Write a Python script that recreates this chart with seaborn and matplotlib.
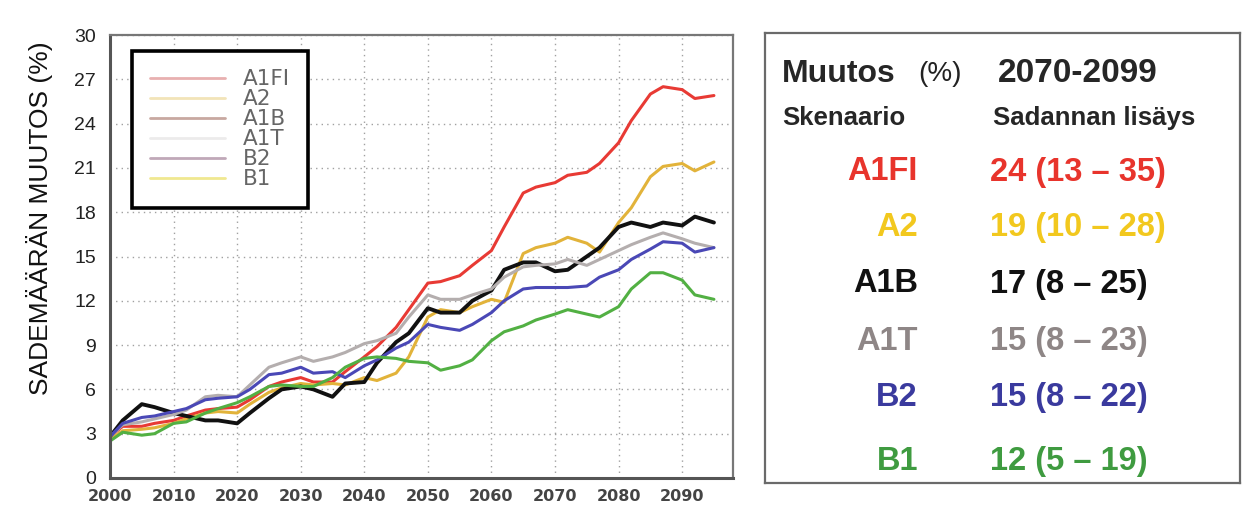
import seaborn as sns
import matplotlib.pyplot as plt
import numpy as np
import pandas as pd
from matplotlib.lines import Line2D

# data
years = [2000, 2002, 2005, 2007, 2010, 2012, 2015, 2017, 2020, 2022,
         2025, 2027, 2030, 2032, 2035, 2037, 2040, 2042, 2045, 2047,
         2050, 2052, 2055, 2057, 2060, 2062, 2065, 2067, 2070, 2072,
         2075, 2077, 2080, 2082, 2085, 2087, 2090, 2092, 2095]
a1fi = [2.8, 3.5, 3.5, 3.7, 3.9, 4.2, 4.6, 4.7, 4.8, 5.3,
        6.2, 6.5, 6.8, 6.5, 6.5, 7.2, 8.2, 8.9, 10.2, 11.4,
        13.2, 13.3, 13.7, 14.4, 15.4, 17.0, 19.3, 19.7, 20.0, 20.5,
        20.7, 21.3, 22.7, 24.2, 26.0, 26.5, 26.3, 25.7, 25.9]
a2 = [2.6, 3.2, 3.3, 3.4, 3.7, 4.0, 4.4, 4.5, 4.4, 5.0,
      5.8, 6.1, 6.4, 6.3, 6.4, 6.3, 6.8, 6.6, 7.1, 8.2,
      10.9, 11.4, 11.2, 11.6, 12.1, 11.9, 15.2, 15.6, 15.9, 16.3,
      15.9, 15.3, 17.3, 18.3, 20.4, 21.1, 21.3, 20.8, 21.4]
a1b = [2.8, 3.9, 5.0, 4.8, 4.4, 4.2, 3.9, 3.9, 3.7, 4.4,
       5.4, 6.0, 6.2, 6.0, 5.5, 6.4, 6.5, 7.8, 9.2, 9.8,
       11.5, 11.2, 11.2, 12.0, 12.7, 14.1, 14.6, 14.6, 14.0, 14.1,
       15.0, 15.6, 17.0, 17.3, 17.0, 17.3, 17.1, 17.7, 17.3]
a1t = [2.8, 3.6, 3.8, 4.0, 4.3, 4.6, 5.5, 5.6, 5.5, 6.3,
       7.5, 7.8, 8.2, 7.9, 8.2, 8.5, 9.1, 9.3, 9.8, 10.9,
       12.4, 12.1, 12.1, 12.4, 12.8, 13.6, 14.3, 14.4, 14.5, 14.8,
       14.4, 14.8, 15.4, 15.8, 16.3, 16.6, 16.2, 15.9, 15.6]
b2 = [2.8, 3.7, 4.1, 4.2, 4.5, 4.7, 5.3, 5.4, 5.5, 6.0,
      7.0, 7.1, 7.5, 7.1, 7.2, 6.8, 7.6, 8.0, 8.8, 9.2,
      10.4, 10.2, 10.0, 10.4, 11.2, 12.0, 12.8, 12.9, 12.9, 12.9,
      13.0, 13.6, 14.1, 14.8, 15.5, 16.0, 15.9, 15.3, 15.6]
b1 = [2.5, 3.1, 2.9, 3.0, 3.7, 3.8, 4.4, 4.7, 5.1, 5.5,
      6.2, 6.3, 6.2, 6.2, 6.8, 7.5, 8.1, 8.2, 8.1, 7.9,
      7.8, 7.3, 7.6, 8.0, 9.3, 9.9, 10.3, 10.7, 11.1, 11.4,
      11.1, 10.9, 11.6, 12.8, 13.9, 13.9, 13.4, 12.4, 12.1]

scenarios = ['A1FI', 'A2', 'A1B', 'A1T', 'B2', 'B1']
table_values = ['24 (13 – 35)', '19 (10 – 28)', '17 (8 – 25)',
                '15 (8 – 23)', '15 (8 – 22)', '12 (5 – 19)']
yticks = list(range(0, 31, 3))
xticks = list(range(2000, 2091, 10))

line_colors = ['#e83a34', '#e2b33a', '#111111', '#b4aeae', '#4a48b6', '#52b043']
text_colors = ['#e8342c', '#f2c81e', '#111111', '#8e8686', '#3a3a9e', '#3f9b40']
legend_colors = ['#e8b0b0', '#f2e4b8', '#c8a8a0', '#ecebeb', '#c0a8b8', '#f0e890']

df = pd.DataFrame({
    'year': years * 6,
    'value': a1fi + a2 + a1b + a1t + b2 + b1,
    'scenario': np.repeat(scenarios, len(years)),
})

sns.set_style('white')
plt.rcParams['font.family'] = ['Liberation Sans', 'DejaVu Sans']

fig = plt.figure(figsize=(12.46, 5.11), dpi=100)
W, H = 1246, 511

# vasen kuvaaja
ax = fig.add_axes([110 / W, 1 - 478 / H, 623 / W, 443 / H])
sns.lineplot(data=df, x='year', y='value', hue='scenario', hue_order=scenarios,
             palette=line_colors, linewidth=2.2, legend=False, ax=ax)
for ln in ax.lines:
    if ln.get_color() == '#111111':
        ln.set_linewidth(2.8)

ax.set_xlim(2000, 2098)
ax.set_ylim(0, 30)
ax.set_xticks(xticks)
ax.set_yticks(yticks)
ax.set_xlabel('')
ax.set_ylabel('')
ax.grid(True, color='#a0a0a0', linestyle=(0, (1, 3)), linewidth=1)
ax.tick_params(axis='y', labelsize=14, length=4, direction='in', pad=10, colors='#222222')
ax.tick_params(axis='x', length=4, direction='in', pad=8, colors='#444444')
for lab in ax.get_xticklabels():
    lab.set_family('DejaVu Sans')
    lab.set_fontweight('bold')
    lab.set_fontsize(11.5)
for s in ['left', 'bottom']:
    ax.spines[s].set_linewidth(2.2)
    ax.spines[s].set_color('#555555')
for s in ['top', 'right']:
    ax.spines[s].set_linewidth(1.6)
    ax.spines[s].set_color('#777777')

handles = [Line2D([0], [0], color=c, lw=2) for c in legend_colors]
leg = ax.legend(handles, scenarios, loc='upper left', bbox_to_anchor=(0.035, 0.964),
                borderaxespad=0, fancybox=False, framealpha=1, fontsize=15.5,
                handlelength=3.5, labelspacing=0.0, borderpad=0.85,
                handletextpad=0.8, labelcolor='#666666')
leg.get_frame().set_edgecolor('black')
leg.get_frame().set_linewidth(2.6)
for t in leg.get_texts():
    t.set_family('DejaVu Sans')

fig.text(40 / W, 1 - 218 / H, 'SADEMÄÄRÄN MUUTOS (%)', rotation=90,
         ha='center', va='center', fontsize=19, color='#111111')

# oikea taulukko
box = fig.add_axes([765 / W, 1 - 483 / H, 475 / W, 450 / H])
box.set_xticks([])
box.set_yticks([])
for s in box.spines.values():
    s.set_color('#6a6a6a')
    s.set_linewidth(1.6)

fig.text(782 / W, 1 - 74 / H, 'Muutos', fontsize=23, fontweight='bold', va='center')
fig.text(918 / W, 1 - 74 / H, '(%)', fontsize=20, va='center', color='#222222')
fig.text(998 / W, 1 - 74 / H, '2070-2099', fontsize=24, fontweight='bold', va='center')
fig.text(782 / W, 1 - 118 / H, 'Skenaario', fontsize=18.5, fontweight='bold', va='center')
fig.text(993 / W, 1 - 118 / H, 'Sadannan lisäys', fontsize=18.5, fontweight='bold', va='center')

row_y = [172, 227, 284, 341, 397, 461]
for name, val, col, yy in zip(scenarios, table_values, text_colors, row_y):
    fig.text(918 / W, 1 - yy / H, name, fontsize=23.5, fontweight='bold',
             color=col, ha='right', va='center')
    fig.text(990 / W, 1 - yy / H, val, fontsize=23.5, fontweight='bold',
             color=col, ha='left', va='center')

plt.savefig('out.png', dpi=100)
